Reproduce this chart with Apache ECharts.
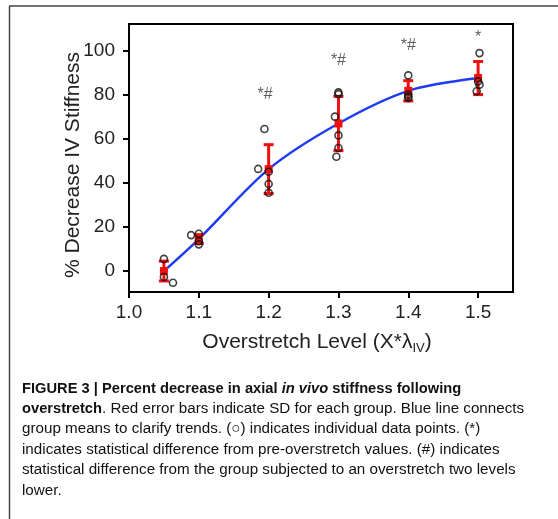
<!DOCTYPE html>
<html>
<head>
<meta charset="utf-8">
<script src="https://cdn.jsdelivr.net/npm/echarts@6/dist/echarts.min.js"></script>
<style>
  html, body { margin: 0; padding: 0; background: #fff; }
  #chart { width: 558px; height: 519px; }
</style>
</head>
<body>
<div id="chart"></div>
<script>
// Overstretch levels and group statistics (% decrease in IV stiffness)
var levels = [1.05, 1.1, 1.2, 1.3, 1.4, 1.5];
var groupMeans = [0, 14.5, 46.2, 66.9, 81.7, 87.5];
var groupSD = [4.5, 2, 11.1, 12.3, 4.6, 7.5];

// Individual specimens, [overstretch level (slightly offset), % decrease]
var pointsX = [1.05, 1.05, 1.063,
               1.089, 1.1, 1.1, 1.1,
               1.194, 1.185, 1.2, 1.2, 1.2,
               1.3, 1.3, 1.295, 1.3, 1.3, 1.297,
               1.4, 1.4, 1.4, 1.4,
               1.502, 1.5, 1.502, 1.498];
var pointsY = [5.5, -2.7, -5.3,
               16.3, 16.9, 12.1, 13.5,
               64.4, 46.3, 45, 39.5, 35.5,
               81, 80.2, 70, 61.5, 55.8, 51.8,
               88.7, 80, 79, 78.5,
               98.8, 86, 84.5, 81.5];

// Significance markers above groups
var sigX = [1.195, 1.3, 1.4, 1.5];
var sigY = [79.8, 95.5, 102, 106];
var sigText = ['*#', '*#', '*#', '*'];

// Axis tick values
var xTicks = [1.0, 1.1, 1.2, 1.3, 1.4, 1.5];
var yTicks = [0, 20, 40, 60, 80, 100];

var meanLine = levels.map(function (x, i) { return [x, groupMeans[i]]; });
var errData = levels.map(function (x, i) { return [x, groupMeans[i], groupSD[i]]; });
var pts = pointsX.map(function (x, i) { return [x, pointsY[i]]; });
var sigData = sigX.map(function (x, i) { return [x, sigY[i], sigText[i]]; });

var FONT = '"Liberation Sans", Arial, sans-serif';
var RED = '#f01010';

var chart = echarts.init(document.getElementById('chart'), null, { renderer: 'canvas' });

chart.setOption({
  animation: false,
  backgroundColor: '#fff',
  grid: {
    left: 129, right: 45, top: 24, bottom: 227,
    show: true, borderColor: '#000', borderWidth: 2
  },
  xAxis: {
    type: 'value',
    min: 1.0, max: 1.55,
    name: 'Overstretch Level (X*λ{sub|IV})',
    nameLocation: 'middle',
    nameGap: 38,
    nameTextStyle: {
      fontFamily: FONT, fontSize: 21, color: '#222', padding: [0, 8, 0, 0],
      rich: { sub: { fontFamily: FONT, fontSize: 13, color: '#222', padding: [12, 0, 0, 0] } }
    },
    axisLine: { show: true, onZero: false, lineStyle: { color: '#000', width: 2 } },
    axisTick: { show: true, length: 6, lineStyle: { color: '#000', width: 2 }, customValues: xTicks },
    axisLabel: {
      customValues: xTicks, margin: 11,
      fontFamily: FONT, fontSize: 19, color: '#222',
      formatter: function (v) { return v.toFixed(1); }
    },
    splitLine: { show: false }
  },
  yAxis: {
    type: 'value',
    min: -9.5, max: 112,
    name: '% Decrease IV Stiffness',
    nameLocation: 'middle',
    nameGap: 45,
    nameRotate: 90,
    nameMoveOverlap: false,
    nameTextStyle: { fontFamily: FONT, fontSize: 21, color: '#222', padding: [0, 14, 0, 0] },
    axisLine: { show: true, onZero: false, lineStyle: { color: '#000', width: 2 } },
    axisTick: { show: true, length: 6, lineStyle: { color: '#000', width: 2 }, customValues: yTicks },
    axisLabel: {
      customValues: yTicks, margin: 14,
      fontFamily: FONT, fontSize: 19, color: '#222'
    },
    splitLine: { show: false }
  },
  graphic: [
    // outer figure frame (left and top edges)
    { type: 'line', shape: { x1: 9.5, y1: 6, x2: 9.5, y2: 519 }, style: { stroke: '#444', lineWidth: 1.5 } },
    { type: 'line', shape: { x1: 9, y1: 6, x2: 558, y2: 6 }, style: { stroke: '#444', lineWidth: 1.5 } },
    // figure caption
    {
      type: 'text', left: 22, top: 381,
      style: {
        text: '{b|FIGURE 3 | Percent decrease in axial }{bi|in vivo}{b| stiffness following}\n' +
              '{b|overstretch}{n|. Red error bars indicate SD for each group. Blue line connects}\n' +
              '{n|group means to clarify trends. (○) indicates individual data points. (*)}\n' +
              '{n|indicates statistical difference from pre-overstretch values. (#) indicates}\n' +
              '{n|statistical difference from the group subjected to an overstretch two levels}\n' +
              '{n|lower.}',
        fill: '#111',
        rich: {
          b: { fontFamily: FONT, fontSize: 14.7, fontWeight: 'bold', lineHeight: 20.4, fill: '#111' },
          bi: { fontFamily: FONT, fontSize: 14.7, fontWeight: 'bold', fontStyle: 'italic', lineHeight: 20.4, fill: '#111' },
          n: { fontFamily: FONT, fontSize: 15.2, lineHeight: 20.4, fill: '#111' }
        }
      }
    }
  ],
  series: [
    {
      // line through group means
      type: 'line',
      data: meanLine,
      smooth: 0.3,
      symbol: 'none',
      lineStyle: { color: '#1f3cf2', width: 2.5 },
      z: 2
    },
    {
      // SD error bars with mean marker
      type: 'custom',
      data: errData,
      z: 3,
      renderItem: function (params, api) {
        var x = api.value(0), m = api.value(1), sd = api.value(2);
        var top = api.coord([x, m + sd]);
        var bot = api.coord([x, m - sd]);
        var mid = api.coord([x, m]);
        var cw = 5;
        var st = { stroke: RED, lineWidth: 3 };
        return {
          type: 'group',
          children: [
            { type: 'line', shape: { x1: top[0], y1: top[1], x2: bot[0], y2: bot[1] }, style: st },
            { type: 'line', shape: { x1: top[0] - cw, y1: top[1], x2: top[0] + cw, y2: top[1] }, style: st },
            { type: 'line', shape: { x1: bot[0] - cw, y1: bot[1], x2: bot[0] + cw, y2: bot[1] }, style: st },
            { type: 'rect', shape: { x: mid[0] - 4, y: mid[1] - 4, width: 8, height: 8 }, style: { fill: RED } }
          ]
        };
      }
    },
    {
      // individual data points
      type: 'scatter',
      data: pts,
      symbol: 'circle',
      symbolSize: 7,
      itemStyle: { color: 'rgba(255,255,255,0)', borderColor: '#111', borderWidth: 1.6 },
      z: 4
    },
    {
      // significance markers
      type: 'scatter',
      data: sigData,
      symbolSize: 0,
      silent: true,
      label: {
        show: true, position: 'inside',
        formatter: function (p) { return p.value[2]; },
        fontFamily: FONT, fontSize: 16, color: '#333'
      },
      z: 5
    }
  ]
});
</script>
</body>
</html>
